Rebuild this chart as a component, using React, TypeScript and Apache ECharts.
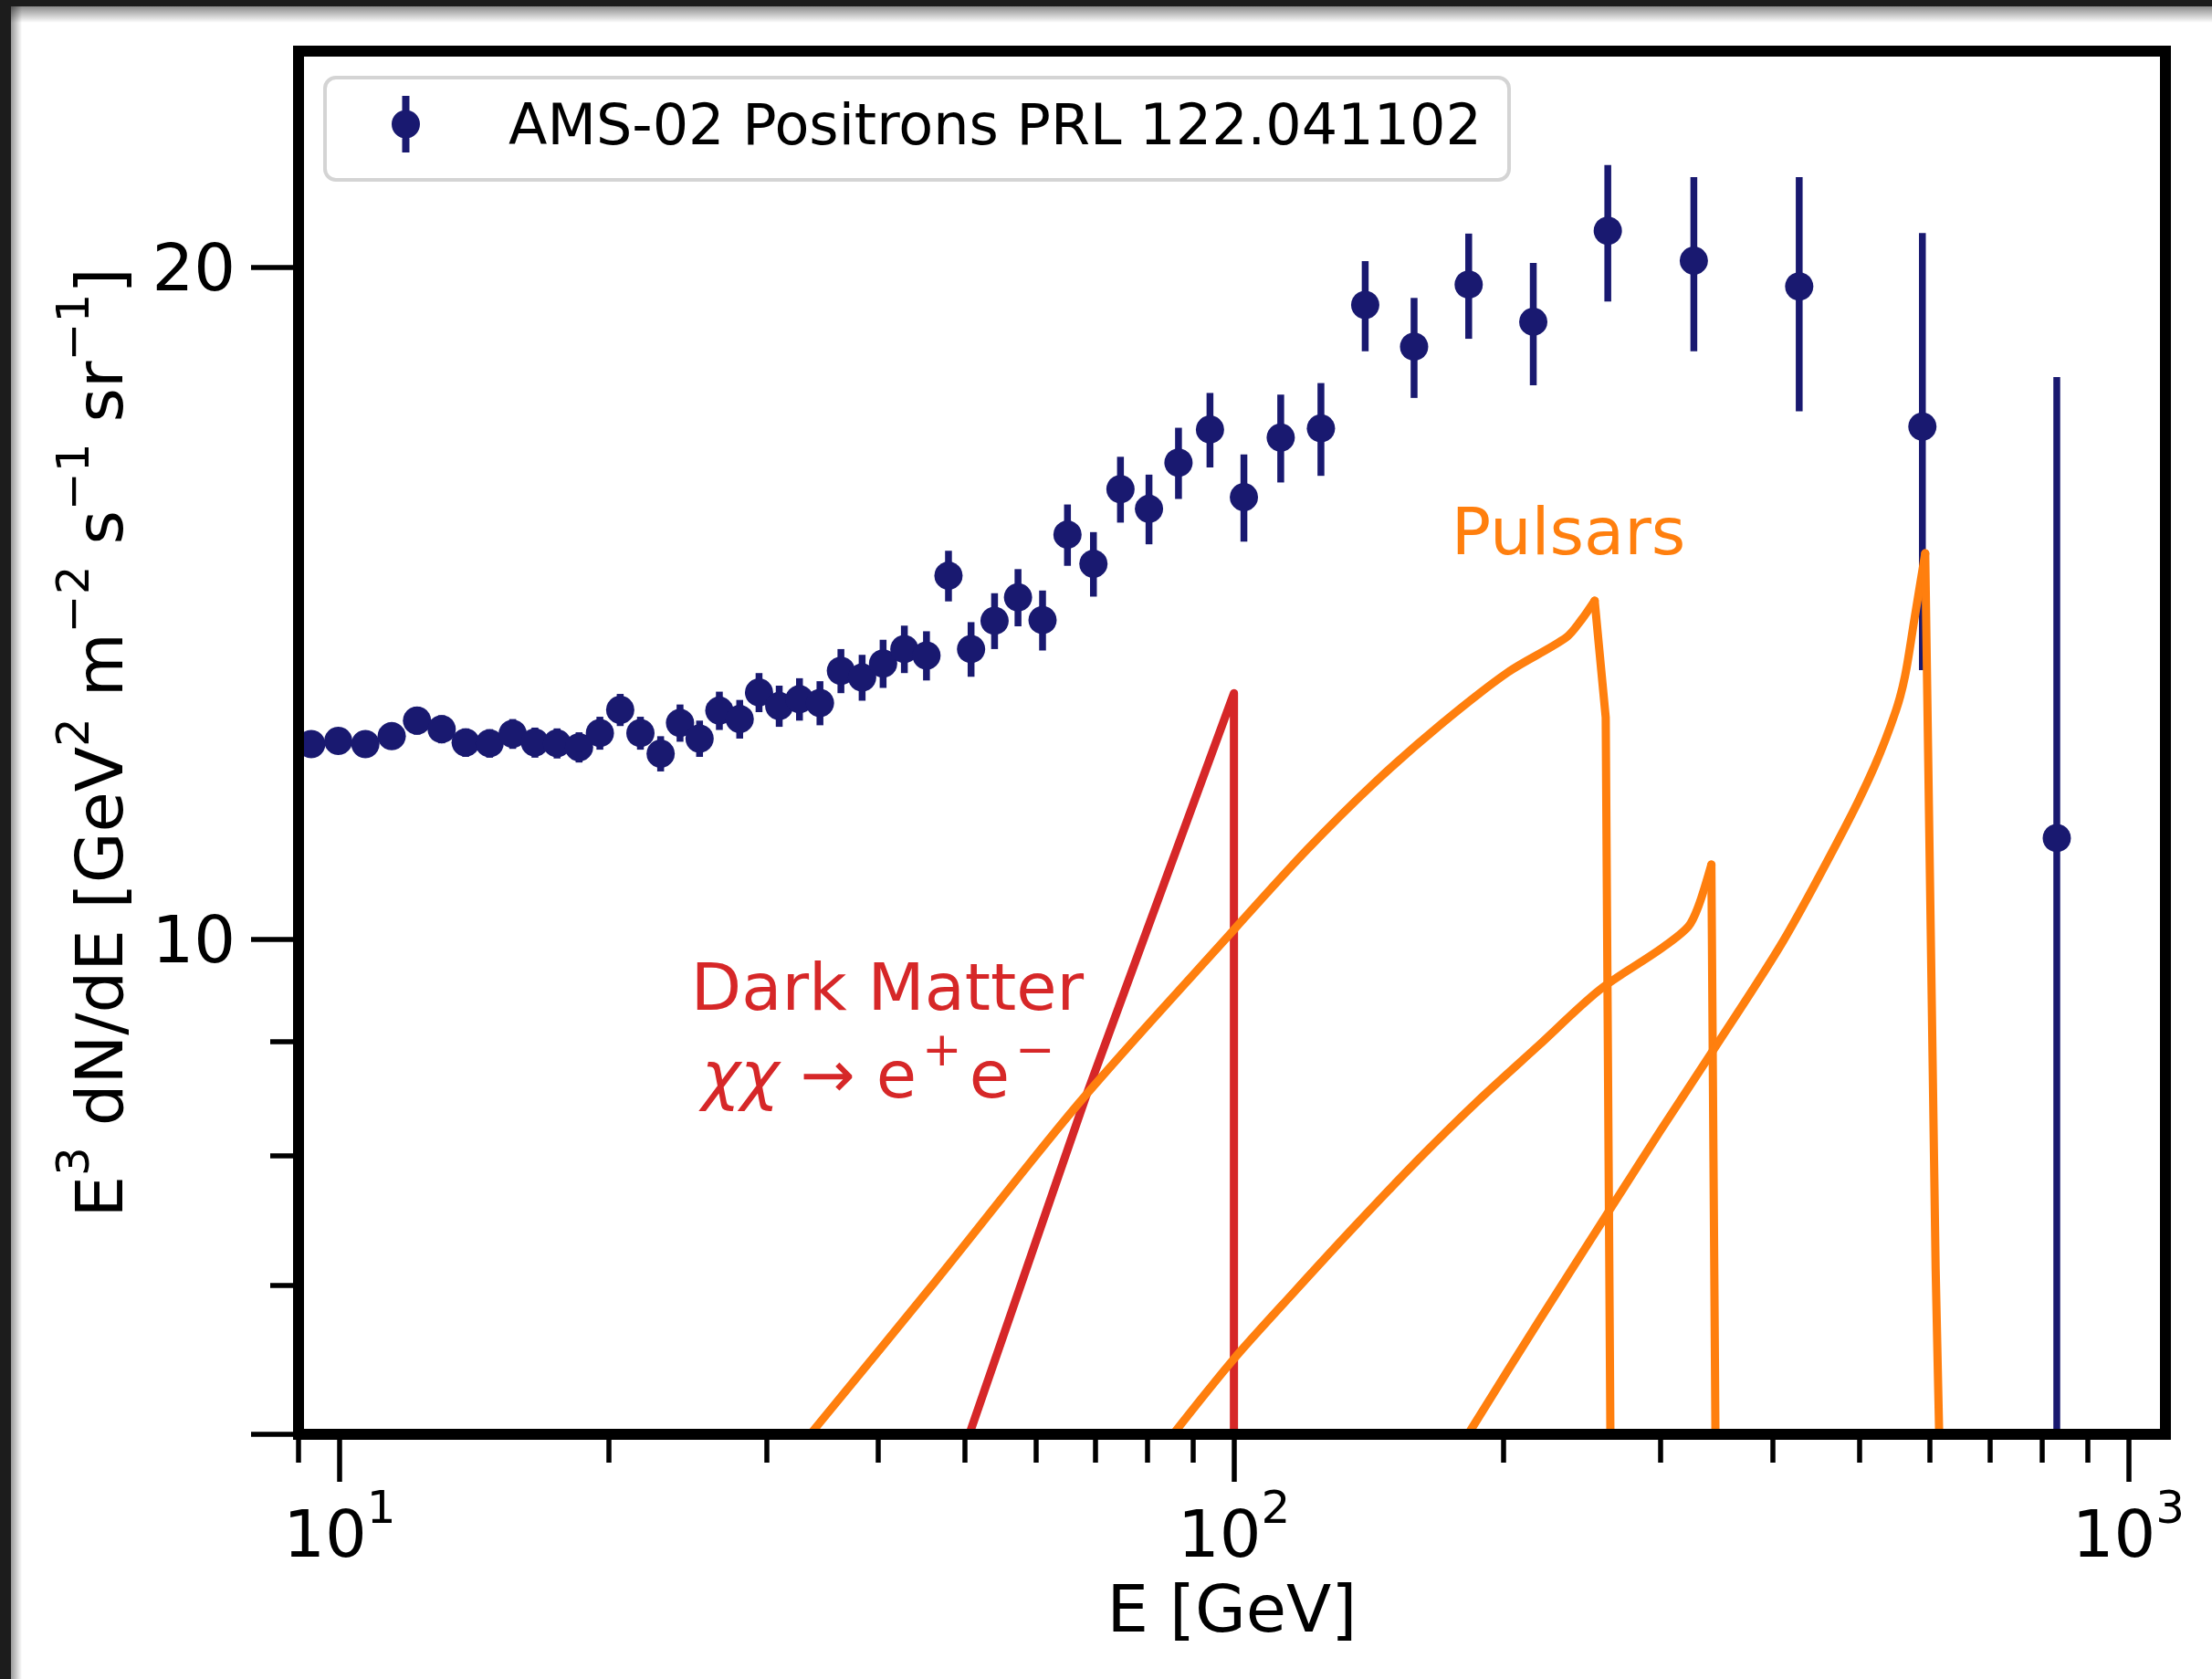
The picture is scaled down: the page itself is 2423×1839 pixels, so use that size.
import React, { useEffect, useRef } from "react";
import * as echarts from "echarts";

// ---------------- data ----------------
const SERIES_NAME = "AMS-02 Positrons PRL 122.041102";

const energy = [
  9.30, 9.97, 10.69, 11.44, 12.21, 13.01, 13.84, 14.72, 15.62, 16.54,
  17.51, 18.53, 19.55, 20.60, 21.70, 22.86, 24.03, 25.27, 26.59, 28.02,
  29.45, 31.02, 32.68, 34.45, 36.36, 38.40, 40.53, 42.81, 45.32, 47.96,
  50.83, 54.00, 57.36, 61.10, 65.15, 69.65, 74.67, 80.36, 86.70, 94.02,
  102.6, 112.8, 125.1, 140.2, 159.0, 183.0, 216.1, 261.8, 326.7, 428.5,
  588.4, 831.6,
];
const flux = [
  12.23, 12.27, 12.23, 12.33, 12.53, 12.42, 12.25, 12.24, 12.36, 12.25,
  12.24, 12.19, 12.37, 12.67, 12.37, 12.11, 12.50, 12.30, 12.66, 12.55,
  12.90, 12.72, 12.81, 12.76, 13.19, 13.10, 13.29, 13.49, 13.40, 14.55,
  13.49, 13.89, 14.23, 13.90, 15.18, 14.73, 15.91, 15.59, 16.35, 16.92,
  15.78, 16.78, 16.94, 19.24, 18.43, 19.65, 18.91, 20.77, 20.14, 19.61,
  16.97, 11.10,
];
const errLow = [
  0.16, 0.16, 0.16, 0.16, 0.18, 0.18, 0.18, 0.18, 0.19, 0.19,
  0.19, 0.19, 0.21, 0.21, 0.21, 0.22, 0.24, 0.23, 0.25, 0.25,
  0.26, 0.27, 0.28, 0.29, 0.30, 0.31, 0.33, 0.33, 0.34, 0.38,
  0.38, 0.40, 0.42, 0.43, 0.48, 0.49, 0.54, 0.56, 0.60, 0.65,
  0.71, 0.76, 0.81, 0.90, 0.95, 1.07, 1.20, 1.46, 1.80, 2.37,
  3.77, 10.0,
];
const errHigh = [
  0.16, 0.16, 0.16, 0.16, 0.18, 0.18, 0.18, 0.18, 0.19, 0.19,
  0.19, 0.19, 0.21, 0.21, 0.21, 0.22, 0.24, 0.23, 0.25, 0.25,
  0.26, 0.27, 0.28, 0.29, 0.30, 0.31, 0.33, 0.33, 0.34, 0.38,
  0.38, 0.40, 0.42, 0.43, 0.48, 0.49, 0.54, 0.56, 0.60, 0.65,
  0.71, 0.76, 0.81, 0.89, 0.95, 1.06, 1.18, 1.46, 1.81, 2.34,
  3.75, 6.76,
];

// Dark matter (chi chi -> e+ e-) spectrum
const dmEnergy = [50.6, 68.3, 100, 100];
const dmFlux = [6.0, 8.5, 12.89, 5.0];

// Pulsar spectra
const pulsarAEnergy = [33.6, 46.3, 67.2, 99.8, 120.5, 143.2, 170.3, 202.4, 235.1, 244.5, 253.1, 260.4, 263.7];
const pulsarAFlux = [6.0, 7.02, 8.45, 10.09, 10.96, 11.74, 12.48, 13.17, 13.65, 13.90, 14.18, 12.57, 5.8];
const pulsarBEnergy = [85.5, 99.8, 116.8, 136.6, 159.9, 187.2, 219.0, 256.3, 299.9, 322.0, 330.7, 341.8, 345.6];
const pulsarBFlux = [6.0, 6.48, 6.95, 7.44, 7.95, 8.46, 8.96, 9.49, 9.90, 10.13, 10.35, 10.80, 5.8];
const pulsarCEnergy = [182.7, 219.0, 256.3, 299.9, 342.9, 411.1, 480.9, 520.0, 549.6, 562.7, 576.2, 592.7, 608.8, 615.5];
const pulsarCFlux = [6.0, 6.74, 7.44, 8.21, 8.91, 9.98, 11.20, 11.95, 12.66, 13.12, 13.90, 14.89, 7.12, 5.8];

// axes
const xMin = 9;
const xMax = 1100;
const yMin = 6;
const yMax = 25;
const xMajorTicks = [10, 100, 1000];
const xMinorTicks = [9, 20, 30, 40, 50, 60, 70, 80, 90, 200, 300, 400, 500, 600, 700, 800, 900];
const yMajorTicks = [6, 10, 20];
const yLabelTicks = [10, 20];
const yMinorTicks = [7, 8, 9];

// ---------------- style ----------------
const FONT = "'DejaVu Sans', 'Liberation Sans', sans-serif";
const NAVY = "#191970";
const ORANGE = "#ff7f0e";
const RED = "#d62728";

const pairs = (xs: number[], ys: number[]) => xs.map((x, i) => [x, ys[i]]);

// split a pulsar spectrum at its cut-off peak: smooth rise, then sharp drop
const splitAtPeak = (xs: number[], ys: number[]) => {
  let peak = 0;
  ys.forEach((y, i) => {
    if (y > ys[peak]) peak = i;
  });
  const pts = pairs(xs, ys);
  return { rise: pts.slice(0, peak + 1), fall: pts.slice(peak) };
};

export default function App() {
  const ref = useRef<HTMLDivElement>(null);

  useEffect(() => {
    if (!ref.current) return;
    const chart = echarts.init(ref.current, null, { renderer: "svg" });

    const frameLine = { color: "#000", width: 12, cap: "square" as const };
    const tickLine = { color: "#000", width: 5.5 };

    const supRich = {
      b: { fontSize: 72, lineHeight: 90, verticalAlign: "bottom", fontFamily: FONT, color: "#000" },
      s: { fontSize: 50, lineHeight: 50, verticalAlign: "top", fontFamily: FONT, color: "#000" },
    };

    const baseX = { type: "log", logBase: 10, min: xMin, max: xMax, splitLine: { show: false }, minorTick: { show: false } };
    const baseY = { type: "log", logBase: 10, min: yMin, max: yMax, splitLine: { show: false }, minorTick: { show: false } };

    const pulsarSeries: any[] = [];
    [
      [pulsarAEnergy, pulsarAFlux],
      [pulsarBEnergy, pulsarBFlux],
      [pulsarCEnergy, pulsarCFlux],
    ].forEach(([xs, ys], k) => {
      const { rise, fall } = splitAtPeak(xs, ys);
      const common = {
        type: "line",
        xAxisIndex: 0,
        yAxisIndex: 0,
        showSymbol: false,
        clip: true,
        z: 5,
        silent: true,
        lineStyle: { color: ORANGE, width: 9, cap: "round", join: "round" },
        itemStyle: { color: ORANGE },
      };
      pulsarSeries.push({ ...common, name: `Pulsar ${k + 1}`, smooth: 0.3, data: rise });
      pulsarSeries.push({ ...common, name: `Pulsar ${k + 1} cut-off`, data: fall });
    });

    const option: any = {
      animation: false,
      backgroundColor: "#ffffff",
      textStyle: { fontFamily: FONT },
      grid: { left: 327, right: 51, top: 56, bottom: 268, containLabel: false, outerBoundsMode: "none" },
      legend: {
        show: true,
        data: [
          {
            name: SERIES_NAME,
            icon: "path://M11.5,0H19.5V62H11.5Z M0,31A15.5,15.5,0,1,1,31,31A15.5,15.5,0,1,1,0,31Z",
          },
        ],
        left: 356,
        top: 85,
        orient: "horizontal",
        itemWidth: 31,
        itemHeight: 62,
        padding: [20, 30, 30, 73],
        backgroundColor: "#ffffff",
        borderColor: "#d4d4d4",
        borderWidth: 4,
        borderRadius: 12,
        selectedMode: false,
        itemStyle: { opacity: 1 },
        textStyle: { fontSize: 62, lineHeight: 62, color: "#000", fontFamily: FONT, padding: [0, 0, 0, 92] },
      },
      xAxis: [
        {
          ...baseX,
          position: "bottom",
          z: 10,
          axisLine: { show: true, onZero: false, lineStyle: frameLine },
          axisTick: { show: true, inside: false, length: 52, lineStyle: tickLine, customValues: xMajorTicks },
          axisLabel: {
            show: true,
            margin: 55,
            customValues: xMajorTicks,
            formatter: (v: number) => `{b|10}{s|${Math.round(Math.log10(v))}}`,
            rich: supRich,
          },
          name: "E [GeV]",
          nameLocation: "middle",
          nameGap: 155,
          nameTextStyle: { fontSize: 72, lineHeight: 72, color: "#000", fontFamily: FONT },
        },
        {
          ...baseX,
          position: "bottom",
          z: 9,
          axisLine: { show: false },
          axisTick: { show: true, inside: false, length: 31, lineStyle: tickLine, customValues: xMinorTicks },
          axisLabel: { show: false },
        },
        {
          ...baseX,
          position: "top",
          z: 10,
          axisLine: { show: true, onZero: false, lineStyle: frameLine },
          axisTick: { show: false },
          axisLabel: { show: false },
        },
      ],
      yAxis: [
        {
          ...baseY,
          position: "left",
          z: 10,
          axisLine: { show: true, onZero: false, lineStyle: frameLine },
          axisTick: { show: true, inside: false, length: 52, lineStyle: tickLine, customValues: yMajorTicks },
          axisLabel: {
            show: true,
            margin: 69,
            customValues: yLabelTicks,
            formatter: (v: number) => String(Math.round(v)),
            fontSize: 72,
            color: "#000",
            fontFamily: FONT,
          },
          name:
            "{b|E}{s|3}{b| dN/dE [GeV}{s|2}{b| m}{s|−2}{b| s}{s|−1}{b| sr}{s|−1}{b|]}",
          nameLocation: "middle",
          nameGap: 182,
          nameTextStyle: { rich: supRich, color: "#000" },
        },
        {
          ...baseY,
          position: "left",
          z: 9,
          axisLine: { show: false },
          axisTick: { show: true, inside: false, length: 31, lineStyle: tickLine, customValues: yMinorTicks },
          axisLabel: { show: false },
        },
        {
          ...baseY,
          position: "right",
          z: 10,
          axisLine: { show: true, onZero: false, lineStyle: frameLine },
          axisTick: { show: false },
          axisLabel: { show: false },
        },
      ],
      series: [
        {
          type: "custom",
          name: "error bars",
          xAxisIndex: 0,
          yAxisIndex: 0,
          clip: true,
          silent: true,
          z: 3,
          data: energy.map((e, i) => [e, flux[i] - errLow[i], flux[i] + errHigh[i]]),
          encode: { x: 0, y: [1, 2] },
          renderItem: (params: any, api: any) => {
            const x = api.value(0);
            const p1 = api.coord([x, api.value(1)]);
            const p2 = api.coord([x, api.value(2)]);
            return {
              type: "line",
              shape: { x1: p1[0], y1: p1[1], x2: p2[0], y2: p2[1] },
              style: { stroke: NAVY, lineWidth: 7.5 },
            };
          },
        },
        {
          type: "scatter",
          name: SERIES_NAME,
          xAxisIndex: 0,
          yAxisIndex: 0,
          symbol: "circle",
          symbolSize: 31,
          itemStyle: { color: NAVY, opacity: 1 },
          z: 4,
          silent: true,
          data: pairs(energy, flux),
        },
        {
          type: "line",
          name: "Dark Matter",
          xAxisIndex: 0,
          yAxisIndex: 0,
          showSymbol: false,
          clip: true,
          z: 5,
          silent: true,
          lineStyle: { color: RED, width: 9, cap: "round", join: "round" },
          itemStyle: { color: RED },
          data: pairs(dmEnergy, dmFlux),
        },
        ...pulsarSeries,
      ],
      graphic: [
        { type: "rect", z: 100, shape: { x: 0, y: 0, width: 2423, height: 7 }, style: { fill: "#1c1c1c" } },
        { type: "rect", z: 100, shape: { x: 0, y: 0, width: 12, height: 1839 }, style: { fill: "#1c1c1c" } },
        {
          type: "rect",
          z: 99,
          shape: { x: 12, y: 7, width: 2411, height: 18 },
          style: {
            fill: {
              type: "linear", x: 0, y: 0, x2: 0, y2: 1,
              colorStops: [
                { offset: 0, color: "rgba(0,0,0,0.45)" },
                { offset: 1, color: "rgba(0,0,0,0)" },
              ],
            },
          },
        },
        {
          type: "rect",
          z: 99,
          shape: { x: 12, y: 7, width: 12, height: 1832 },
          style: {
            fill: {
              type: "linear", x: 0, y: 0, x2: 1, y2: 0,
              colorStops: [
                { offset: 0, color: "rgba(0,0,0,0.4)" },
                { offset: 1, color: "rgba(0,0,0,0)" },
              ],
            },
          },
        },
        {
          type: "text",
          z: 50,
          x: 1718,
          y: 582,
          style: { text: "Pulsars", fill: ORANGE, fontSize: 72, fontFamily: FONT, align: "center", verticalAlign: "middle" },
        },
        {
          type: "text",
          z: 50,
          x: 972,
          y: 1081,
          style: { text: "Dark Matter", fill: RED, fontSize: 72, fontFamily: FONT, align: "center", verticalAlign: "middle" },
        },
        {
          type: "text",
          z: 50,
          x: 966,
          y: 1168,
          style: {
            text: "{i|χχ}{n| → e}{s|+}{n|e}{s|−}",
            align: "center",
            verticalAlign: "middle",
            rich: {
              i: { fontSize: 72, lineHeight: 90, verticalAlign: "bottom", fontStyle: "italic", fontFamily: FONT, fill: RED },
              n: { fontSize: 72, lineHeight: 90, verticalAlign: "bottom", fontFamily: FONT, fill: RED },
              s: { fontSize: 52, lineHeight: 54, verticalAlign: "top", fontFamily: FONT, fill: RED, padding: [0, 8, 0, 6] },
            },
          },
        },
      ],
    };

    chart.setOption(option);
    return () => chart.dispose();
  }, []);

  return (
    <div
      ref={ref}
      style={{ position: "absolute", left: 0, top: 0, width: 2423, height: 1839, background: "#fff" }}
    />
  );
}
